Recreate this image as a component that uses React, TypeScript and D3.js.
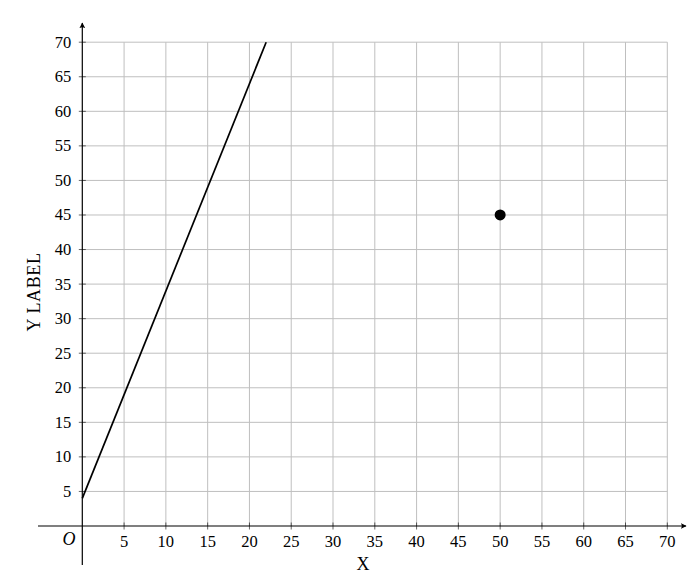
import React, { useEffect, useRef } from 'react';
import * as d3 from 'd3';

const xTicks = [5, 10, 15, 20, 25, 30, 35, 40, 45, 50, 55, 60, 65, 70];
const yTicks = [5, 10, 15, 20, 25, 30, 35, 40, 45, 50, 55, 60, 65, 70];
const lineXs = [0, 22];
const lineYs = [4, 70];
const pointX = [50];
const pointY = [45];

const W = 693;
const H = 574;

export default function App() {
  const svgRef = useRef<SVGSVGElement>(null);

  useEffect(() => {
    if (!svgRef.current) return;
    const svg = d3.select(svgRef.current);
    svg.selectAll('*').remove();

    const x = d3.scaleLinear().domain([0, 70]).range([82.3, 667.3]);
    const y = d3.scaleLinear().domain([0, 70]).range([526, 42.2]);
    const font = '"Liberation Serif", "DejaVu Serif", serif';

    const defs = svg.append('defs');
    defs.append('marker')
      .attr('id', 'arr')
      .attr('viewBox', '0 0 10 10')
      .attr('refX', 9)
      .attr('refY', 5)
      .attr('markerWidth', 6)
      .attr('markerHeight', 6)
      .attr('markerUnits', 'userSpaceOnUse')
      .attr('orient', 'auto')
      .append('path')
      .attr('d', 'M0,0 Q4,5 0,10 L10,5 Z')
      .attr('fill', '#000');

    // grid
    const grid = svg.append('g').attr('stroke', '#bfbfbf').attr('stroke-width', 1);
    xTicks.forEach(t => {
      grid.append('line').attr('x1', x(t)).attr('x2', x(t)).attr('y1', y(0)).attr('y2', y(70));
    });
    yTicks.forEach(t => {
      grid.append('line').attr('x1', x(0)).attr('x2', x(70)).attr('y1', y(t)).attr('y2', y(t));
    });

    // axes
    svg.append('line')
      .attr('x1', 38).attr('x2', 686)
      .attr('y1', y(0)).attr('y2', y(0))
      .attr('stroke', '#000').attr('stroke-width', 1.2)
      .attr('marker-end', 'url(#arr)');
    svg.append('line')
      .attr('x1', x(0)).attr('x2', x(0))
      .attr('y1', 565).attr('y2', 23)
      .attr('stroke', '#000').attr('stroke-width', 1.2)
      .attr('marker-end', 'url(#arr)');

    // tick marks
    const ticks = svg.append('g').attr('stroke', '#000').attr('stroke-width', 0.6);
    xTicks.forEach(t => {
      ticks.append('line').attr('x1', x(t)).attr('x2', x(t)).attr('y1', y(0) - 3.5).attr('y2', y(0) + 3.5);
    });
    yTicks.forEach(t => {
      ticks.append('line').attr('x1', x(0) - 3.5).attr('x2', x(0) + 3.5).attr('y1', y(t)).attr('y2', y(t));
    });

    // tick labels
    svg.append('g').selectAll('text').data(xTicks).join('text')
      .attr('x', d => x(d))
      .attr('y', y(0) + 21)
      .attr('text-anchor', 'middle')
      .attr('font-family', font)
      .attr('font-size', 16.5)
      .text(d => d);
    svg.append('g').selectAll('text').data(yTicks).join('text')
      .attr('x', x(0) - 11)
      .attr('y', d => y(d) + 5.5)
      .attr('text-anchor', 'end')
      .attr('font-family', font)
      .attr('font-size', 16.5)
      .text(d => d);

    svg.append('text')
      .attr('x', 69).attr('y', 545)
      .attr('text-anchor', 'middle')
      .attr('font-family', font)
      .attr('font-style', 'italic')
      .attr('font-size', 18)
      .text('O');

    svg.append('text')
      .attr('x', 363).attr('y', 570)
      .attr('text-anchor', 'middle')
      .attr('font-family', font)
      .attr('font-size', 18)
      .text('X');

    svg.append('text')
      .attr('transform', `translate(40,292) rotate(-90)`)
      .attr('text-anchor', 'middle')
      .attr('font-family', font)
      .attr('font-size', 18)
      .attr('letter-spacing', 0.6)
      .text('Y LABEL');

    // line
    const lineData = lineXs.map((v, i) => [v, lineYs[i]] as [number, number]);
    svg.append('path')
      .datum(lineData)
      .attr('d', d3.line<[number, number]>().x(d => x(d[0])).y(d => y(d[1])))
      .attr('fill', 'none')
      .attr('stroke', '#000')
      .attr('stroke-width', 1.7);

    // point
    svg.append('g').selectAll('circle').data(pointX).join('circle')
      .attr('cx', d => x(d))
      .attr('cy', (_, i) => y(pointY[i]))
      .attr('r', 5.5)
      .attr('fill', '#000');
  }, []);

  return (
    <svg
      ref={svgRef}
      width={W}
      height={H}
      style={{ position: 'absolute', left: 0, top: 0, background: '#fff' }}
    />
  );
}
